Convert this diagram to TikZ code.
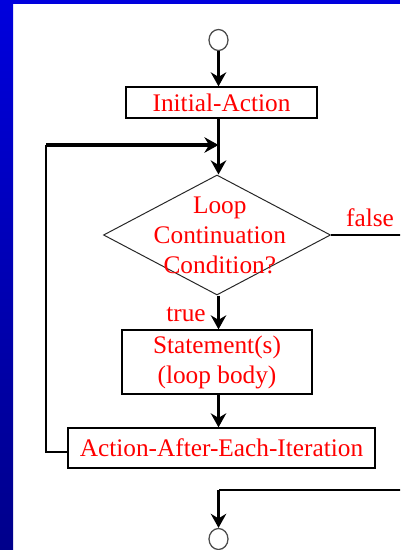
\documentclass[tikz,border=0pt]{standalone}
\usepackage{fontspec}
\setmainfont{Liberation Serif}
\usetikzlibrary{shapes.geometric,arrows.meta}
\definecolor{slideblue}{RGB}{0,0,221}
\definecolor{slidenavy}{RGB}{0,0,139}
\definecolor{textred}{RGB}{255,0,0}
\tikzset{
  box/.style={draw,line width=0.9pt,inner sep=0pt,text=textred,
    font=\fontsize{18}{21.3}\selectfont,align=center},
  decision/.style={diamond,draw=black!85,line width=0.7pt,inner sep=0pt,
    minimum width=5.675cm,minimum height=3cm},
  terminal/.style={ellipse,draw=black!70,line width=0.9pt,inner sep=0pt,
    minimum width=0.475cm,minimum height=0.525cm},
  arr/.style={line width=2.2pt,-{Stealth[length=10pt,width=11pt]}},
  thinline/.style={line width=1.1pt},
  lbl/.style={text=textred,font=\fontsize{18}{21.3}\selectfont,inner sep=0pt}
}

\begin{document}
\begin{tikzpicture}[x=0.025cm,y=-0.025cm]
  \clip (0,0) rectangle (400,550);
  \fill[white] (0,0) rectangle (400,550);
  \shade[top color=slideblue,bottom color=slidenavy] (0,0) rectangle (13,550);
  \fill[slideblue] (0,0) rectangle (400,4);

  % flow chart nodes
  \node (start) at (218.5,40) [terminal] {};
  \node (init) at (221.5,102.5) [box,minimum width=4.775cm,minimum height=0.775cm] {Initial-Action};
  \node (cond) at (217,235) [decision,
    label={[lbl,align=center,xshift=0.07cm]center:Loop\\Continuation\\Condition?}] {};
  \node (body) at (217,362) [box,minimum width=4.75cm,minimum height=1.6cm] {Statement(s)\\(loop body)};
  \node (after) at (221.5,448) [box,minimum width=7.675cm,minimum height=1cm] {Action-After-Each-Iteration};
  \node (stop) at (218.5,539) [terminal] {};
  \node (truelbl) at (186,314) [lbl] {true};
  \node (falselbl) at (370,218) [lbl] {false};

  \coordinate (join) at (218.5,145);
  \coordinate (loopleft) at (46,145);
  \coordinate (loopback) at (46,452);
  \coordinate (exitright) at (410,490);

  % connectors
  \draw[arr] (start) -- (start |- init.north);
  \draw[line width=2.2pt] (start |- init.south) -- (join);
  \draw[arr] (join) -- (join |- cond.north);
  \draw[arr] (start |- cond.south) -- (start |- body.north);
  \draw[arr] (start |- body.south) -- (start |- after.north);
  \draw[thinline] (after.west |- loopback) -- (loopback) -- (loopleft);
  \draw[arr] (loopleft) -- (join);
  \draw[thinline] (cond.east) -- (cond.east -| exitright) -- (exitright) -- (start |- exitright);
  \draw[arr] (start |- exitright) -- (stop);
\end{tikzpicture}
\end{document}
